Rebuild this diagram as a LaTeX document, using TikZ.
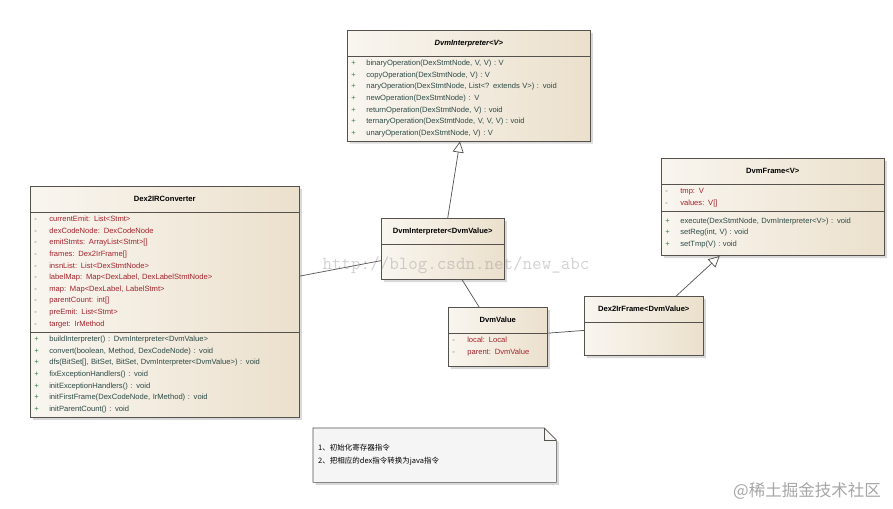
\documentclass[tikz,border=0pt]{standalone}
\usepackage{fontspec}
\setmainfont{Liberation Sans}
\newfontfamily\cjk{Noto Sans CJK SC}
\usetikzlibrary{shapes.multipart,shadows,arrows.meta,calc,backgrounds}
\definecolor{classfill}{HTML}{EBE0CC}
\definecolor{classline}{HTML}{55524D}
\definecolor{attrred}{HTML}{A3232C}
\definecolor{attrmark}{HTML}{7E6454}
\definecolor{optext}{HTML}{2C4A46}
\definecolor{opmark}{HTML}{3F7F4A}
\definecolor{notefill}{HTML}{F5F5F5}
\newcommand{\umlattr}[1]{\makebox[15pt][l]{\textcolor{attrmark}{-}}\textcolor{attrred}{#1}}
\newcommand{\umlop}[1]{\makebox[15pt][l]{\textcolor{opmark}{+}}\textcolor{optext}{#1}}
\newcommand{\umltitle}[1]{\makebox[\hsize][c]{\rule[-6pt]{0pt}{17pt}\textbf{#1}}}

\begin{document}
\begin{tikzpicture}[x=1pt,y=-1pt,
    umlclass/.style={rectangle split, rectangle split parts=#1,
      rectangle split draw splits=true, draw=classline, line width=0.6pt,
      left color=classfill!30!white, right color=classfill,
      drop shadow={shadow xshift=2.5pt,shadow yshift=-2.5pt,opacity=0.3},
      inner xsep=4pt, inner ysep=4pt, align=left, anchor=north west,
      font=\fontsize{7.6}{11.6}\selectfont},
    umlclass/.default=3,
    assoc/.style={draw=classline, line width=0.7pt},
    realize/.style={assoc, -{Triangle[open,length=11pt,width=11pt]}},
    notetext/.style={anchor=north west, align=left, text width=233pt,
      inner xsep=5pt, minimum height=54pt, font=\cjk\fontsize{7.5}{13}\selectfont},
    notebox/.style={draw=classline, line width=0.6pt, fill=notefill,
      drop shadow={shadow xshift=2.5pt,shadow yshift=-2.5pt,opacity=0.3}}]

  \begin{scope}[on background layer]
    \fill[white] (0,0) rectangle (893,508);
  \end{scope}
  \useasboundingbox (0,0) rectangle (893,508);

  % abstract interpreter
  \node[umlclass=2, text width=235pt] (interp) at (347,30) {%
    \umltitle{\textit{DvmInterpreter<V>}}
    \nodepart{two}
    \umlop{binaryOperation(DexStmtNode,  V,  V) : V}\\
    \umlop{copyOperation(DexStmtNode, V) : V}\\
    \umlop{naryOperation(DexStmtNode, List<? extends V>) : void}\\
    \umlop{newOperation(DexStmtNode) : V}\\
    \umlop{returnOperation(DexStmtNode, V) : void}\\
    \umlop{ternaryOperation(DexStmtNode, V, V, V) : void}\\
    \umlop{unaryOperation(DexStmtNode,  V) : V}};

  % converter
  \node[umlclass, text width=261pt] (conv) at (30,186) {%
    \umltitle{Dex2IRConverter}
    \nodepart{two}
    \umlattr{currentEmit:  List<Stmt>}\\
    \umlattr{dexCodeNode:  DexCodeNode}\\
    \umlattr{emitStmts:  ArrayList<Stmt>[]}\\
    \umlattr{frames:  Dex2IrFrame[]}\\
    \umlattr{insnList:  List<DexStmtNode>}\\
    \umlattr{labelMap:  Map<DexLabel, DexLabelStmtNode>}\\
    \umlattr{map:  Map<DexLabel, LabelStmt>}\\
    \umlattr{parentCount:  int[]}\\
    \umlattr{preEmit:  List<Stmt>}\\
    \umlattr{target:  IrMethod}
    \nodepart{three}
    \umlop{buildInterpreter() : DvmInterpreter<DvmValue>}\\
    \umlop{convert(boolean, Method, DexCodeNode) : void}\\
    \umlop{dfs(BitSet[], BitSet, BitSet, DvmInterpreter<DvmValue>) : void}\\
    \umlop{fixExceptionHandlers() : void}\\
    \umlop{initExceptionHandlers() : void}\\
    \umlop{initFirstFrame(DexCodeNode, IrMethod) : void}\\
    \umlop{initParentCount() : void}};

  % frame
  \node[umlclass, text width=215pt] (frame) at (661,158) {%
    \umltitle{DvmFrame<V>}
    \nodepart{two}
    \umlattr{tmp:  V}\\
    \umlattr{values:  V[]}
    \nodepart{three}
    \rule{0pt}{8pt}\umlop{execute(DexStmtNode, DvmInterpreter<V>) : void}\\
    \umlop{setReg(int, V) : void}\\
    \umlop{setTmp(V) : void}\rule[-5pt]{0pt}{0pt}};

  % bound classes
  \node[umlclass=2, text width=115pt] (interpv) at (381,218) {%
    \umltitle{DvmInterpreter<DvmValue>}
    \nodepart{two}\rule{0pt}{27pt}};
  \node[umlclass=2, text width=91pt] (value) at (448,307) {%
    \umltitle{DvmValue}
    \nodepart{two}
    \umlattr{local:  Local}\\
    \umlattr{parent:  DvmValue}\rule[-8pt]{0pt}{0pt}};
  \node[umlclass=2, text width=111pt] (irframe) at (584,296) {%
    \umltitle{Dex2IrFrame<DvmValue>}
    \nodepart{two}\rule{0pt}{25pt}};

  \path[assoc]
    (conv) edge (interpv)
    (interpv) edge (value)
    (value) edge (irframe);
  \path[realize]
    (interpv) edge (interp)
    (irframe) edge (frame);

  % note
  \node[notetext] (note) at (313,428) {1、初始化寄存器指令\\2、把相应的dex指令转换为java指令};
  \begin{scope}[on background layer]
    \draw[notebox] (note.north west) -- ($(note.north east)+(-12,0)$)
      -- ($(note.north east)+(0,12)$) -- (note.south east) -- (note.south west) -- cycle;
  \end{scope}
  \draw[draw=classline, line width=0.6pt] ($(note.north east)+(-12,0)$)
    -- ($(note.north east)+(-12,12)$) -- ($(note.north east)+(0,12)$);

  % watermarks
  \node[text=gray, opacity=0.35, font=\ttfamily\fontsize{18.5}{20}\selectfont] (wmurl) at (456,265) {http://blog.csdn.net/new\_abc};
  \node[text=gray!70, font=\cjk\fontsize{16.5}{18}\selectfont] (wmsite) at (807,491) {@稀土掘金技术社区};
\end{tikzpicture}
\end{document}
